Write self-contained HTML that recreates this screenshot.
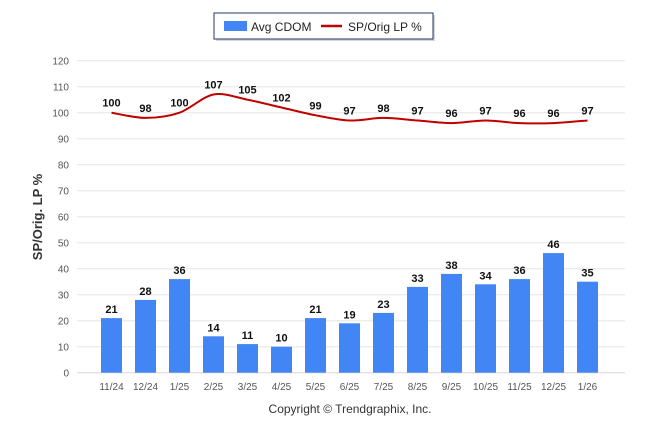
<!DOCTYPE html>
<html><head><meta charset="utf-8"><style>
body{margin:0;background:#fff;font-family:"Liberation Sans",Arial,sans-serif}
</style></head><body>
<svg width="646" height="434" xmlns="http://www.w3.org/2000/svg">
<g id="grid"></g>
<g id="bars"></g>
<g id="line"></g>
<g id="labels"></g>
<text x="42" y="217" transform="rotate(-90 42 217)" text-anchor="middle" font-size="13" font-weight="bold" fill="#333">SP/Orig. LP %</text>
<text x="350" y="413" text-anchor="middle" font-size="12" fill="#333">Copyright © Trendgraphix, Inc.</text>
<g>
<rect x="216" y="15" width="219" height="26" fill="#bbb" opacity="0.6"/>
<rect x="214" y="13" width="219" height="26" fill="#fff" stroke="#1f3864" stroke-width="1"/>
<rect x="224" y="21" width="23" height="10" fill="#4285f4"/>
<text x="251" y="31" font-size="12" fill="#222">Avg CDOM</text>
<line x1="321" y1="26" x2="342" y2="26" stroke="#c00000" stroke-width="2.5"/>
<text x="348" y="31" font-size="12" fill="#222">SP/Orig LP %</text>
</g>
</svg>
<script>
const categories=["11/24","12/24","1/25","2/25","3/25","4/25","5/25","6/25","7/25","8/25","9/25","10/25","11/25","12/25","1/26"];
const cdom=[21,28,36,14,11,10,21,19,23,33,38,34,36,46,35];
const spPct=[100,98,100,107,105,102,99,97,98,97,96,97,96,96,97];
const yTicks=[0,10,20,30,40,50,60,70,80,90,100,110,120];
const NS="http://www.w3.org/2000/svg";
const y=v=>372.7-v*(312/120);
const x=i=>111.5+i*34;
function mk(t,a,p){const e=document.createElementNS(NS,t);for(const k in a)e.setAttribute(k,a[k]);p.appendChild(e);return e;}
const grid=document.getElementById('grid'),bars=document.getElementById('bars'),line=document.getElementById('line'),labels=document.getElementById('labels');
yTicks.forEach(v=>{
 const l=mk('line',{x1:77,x2:625,y1:y(v),y2:y(v),stroke:'#e6e6e6','stroke-width':1},grid);
 
 
 const t=mk('text',{x:69,y:y(v)+4,'text-anchor':'end','font-size':10,fill:'#555'},grid);
 t.textContent=v;
 
 
});
categories.forEach((c,i)=>{
 const t=mk('text',{x:x(i),y:390,'text-anchor':'middle','font-size':10,fill:'#555'},grid);
 t.textContent=c;
 
 
 const r=mk('rect',{x:x(i)-10.5,y:y(cdom[i]),width:21,height:372.7-y(cdom[i]),fill:'#4285f4'},bars);
 
 
 const bl=mk('text',{x:x(i),y:y(cdom[i])-5,'text-anchor':'middle','font-size':11,'font-weight':'bold',fill:'#111'},labels);
 bl.textContent=cdom[i];
 
 
 const ll=mk('text',{x:x(i),y:y(spPct[i])-6,'text-anchor':'middle','font-size':11,'font-weight':'bold',fill:'#111'},labels);
 ll.textContent=spPct[i];
 
 
});
mk('line',{x1:77,x2:625,y1:372.7,y2:372.7,stroke:'#ddd'},grid);
// smooth path (monotone-ish cardinal)
const pts=spPct.map((v,i)=>[x(i),y(v)]);
let d='M'+pts[0][0]+','+pts[0][1];
for(let i=0;i<pts.length-1;i++){
 const p0=pts[Math.max(i-1,0)],p1=pts[i],p2=pts[i+1],p3=pts[Math.min(i+2,pts.length-1)];
 const t=0.16;
 const c1=[p1[0]+(p2[0]-p0[0])*t,p1[1]+(p2[1]-p0[1])*t];
 const c2=[p2[0]-(p3[0]-p1[0])*t,p2[1]-(p3[1]-p1[1])*t];
 d+=' C'+c1+' '+c2+' '+p2;
}
const path=mk('path',{d:d,fill:'none',stroke:'#c00000','stroke-width':2},line);


</script>
</body></html>
